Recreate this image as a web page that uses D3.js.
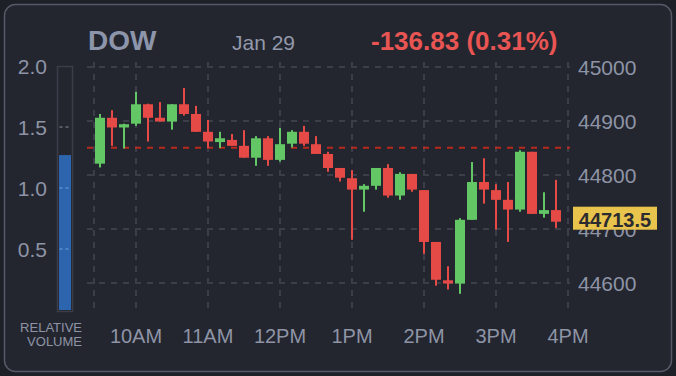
<!DOCTYPE html>
<html>
<head>
<meta charset="utf-8">
<script src="https://cdn.jsdelivr.net/npm/d3@7"></script>
<style>
  html, body { margin: 0; padding: 0; background: #1b1d24; }
  svg { display: block; font-family: "Liberation Sans", Arial, sans-serif; }
</style>
</head>
<body>
<div id="chart"></div>
<script>
// 10-minute candles, Jan 29, starting 9:30
const opens  = [44821,44906,44888,44895,44931,44906,44899,44931,44913,44880,
                44861,44865,44854,44832,44868,44828,44858,44880,44857,44839,
                44813,44794,44773,44780,44813,44762,44802,44772,44676,44605,
                44599,44717,44787,44772,44754,44736,44843,44728,44735];
const highs  = [44913,44920,44895,44954,44932,44935,44931,44961,44928,44902,
                44880,44876,44883,44872,44872,44887,44883,44891,44872,44843,
                44813,44809,44783,44813,44820,44805,44802,44772,44676,44631,
                44720,44824,44831,44783,44787,44846,44843,44768,44791];
const lows   = [44814,44854,44849,44891,44862,44899,44884,44910,44880,44850,
                44850,44854,44832,44817,44817,44825,44851,44854,44839,44806,
                44788,44680,44732,44773,44758,44754,44769,44654,44595,44588,
                44580,44717,44747,44699,44676,44732,44728,44721,44702];
const closes = [44906,44888,44894,44931,44906,44899,44931,44913,44880,44862,
                44868,44854,44832,44868,44828,44857,44880,44858,44839,44813,
                44795,44773,44780,44813,44762,44802,44773,44676,44606,44599,
                44717,44787,44773,44754,44736,44843,44728,44735,44713.5];

const symbol = "DOW";
const dateLabel = "Jan 29";
const changeLabel = "-136.83 (0.31%)";
const prevClose = 44850.33;
const lastPrice = 44713.5;
const relVolume = 1.27;
const priceTicks = [44600, 44700, 44800, 44900, 45000];
const volTicks = [0.5, 1.0, 1.5, 2.0];

const W = 676, H = 376;
const bg = "#23262f", grid = "#3b3e49", txt = "#8e94a6";
const up = "#63c766", down = "#e64a46";

const day = d => new Date(2025, 0, 29, Math.floor(d / 60), d % 60);
const candles = opens.map((o, i) => ({
  t: day(570 + 10 * i), o, h: highs[i], l: lows[i], c: closes[i]
}));

const svg = d3.select("#chart").append("svg")
  .attr("width", W).attr("height", H);

svg.append("rect").attr("width", W).attr("height", H).attr("fill", "#1e2028");
svg.append("rect")
  .attr("x", 4.5).attr("y", 4.5).attr("width", W - 9).attr("height", H - 9)
  .attr("rx", 11).attr("fill", bg).attr("stroke", "#555965").attr("stroke-width", 1.5);

const plotTop = 62, plotBottom = 308, gridLeft = 87, gridRight = 570;

const x = d3.scaleTime().domain([day(565), day(960)]).range([94, 568]);
const y = d3.scaleLinear().domain([44600, 45000]).range([283, 67]);
const v = d3.scaleLinear().domain([0, 2]).range([310, 66]);

// grid
const g = svg.append("g");
g.selectAll("line.h").data(priceTicks).join("line")
  .attr("x1", gridLeft).attr("x2", gridRight)
  .attr("y1", d => y(d)).attr("y2", d => y(d))
  .attr("stroke", grid).attr("stroke-width", 2).attr("stroke-dasharray", "6,6");

const hours = x.ticks(d3.timeHour.every(1));
g.selectAll("line.v").data([day(565)].concat(hours)).join("line")
  .attr("x1", d => x(d)).attr("x2", d => x(d))
  .attr("y1", plotTop).attr("y2", plotBottom)
  .attr("stroke", grid).attr("stroke-width", 2).attr("stroke-dasharray", "6,6");

// previous close
svg.append("line")
  .attr("x1", gridLeft).attr("x2", gridRight)
  .attr("y1", y(prevClose)).attr("y2", y(prevClose))
  .attr("stroke", "#b8291f").attr("stroke-width", 2).attr("stroke-dasharray", "6,6");

// candles
const cg = svg.append("g").selectAll("g").data(candles).join("g");
cg.append("rect")
  .attr("x", d => x(d.t) - 1).attr("width", 2)
  .attr("y", d => y(d.h)).attr("height", d => y(d.l) - y(d.h))
  .attr("fill", d => d.c >= d.o ? up : down);
cg.append("rect")
  .attr("x", d => x(d.t) - 5).attr("width", 10)
  .attr("y", d => y(Math.max(d.o, d.c)))
  .attr("height", d => Math.max(3, Math.abs(y(d.o) - y(d.c))))
  .attr("fill", d => d.c >= d.o ? up : down);

// price axis (right)
svg.append("g").selectAll("text").data(priceTicks).join("text")
  .attr("x", 578).attr("y", d => y(d) + 7.5)
  .attr("fill", txt).attr("font-size", 21)
  .text(d => d);

// last price tag (sits over the 44700 label, as in the original)
svg.append("rect")
  .attr("x", 573).attr("y", y(lastPrice) - 15).attr("width", 84).attr("height", 23)
  .attr("fill", "#e9c44c");
svg.append("text")
  .attr("x", 615).attr("y", y(lastPrice) + 5.5).attr("text-anchor", "middle")
  .attr("fill", "#2b2b30").attr("font-size", 20).attr("font-weight", "bold")
  .text(lastPrice.toFixed(1));

// time axis
svg.append("g").selectAll("text").data(hours).join("text")
  .attr("x", d => x(d)).attr("y", 343).attr("text-anchor", "middle")
  .attr("fill", txt).attr("font-size", 20)
  .text(d => d3.timeFormat("%-I%p")(d));

// relative volume bar
svg.append("rect")
  .attr("x", 59).attr("width", 12)
  .attr("y", v(relVolume)).attr("height", v(0) - v(relVolume))
  .attr("fill", "#2c65ad");
svg.append("rect")
  .attr("x", 57.5).attr("y", 66.5).attr("width", 15).attr("height", 245)
  .attr("fill", "none").attr("stroke", "#3b3e49").attr("stroke-width", 1.5);
svg.append("g").selectAll("line").data([0.5, 1.0, 1.5]).join("line")
  .attr("x1", 59).attr("x2", 71)
  .attr("y1", d => v(d)).attr("y2", d => v(d))
  .attr("stroke", d => d <= relVolume ? "#5a8fd0" : "#6a6e78")
  .attr("stroke-width", 1.5).attr("stroke-dasharray", "3,3").attr("stroke-dashoffset", -0.5);
svg.append("g").selectAll("text").data(volTicks).join("text")
  .attr("x", 47).attr("y", d => v(d) + 7.5).attr("text-anchor", "end")
  .attr("fill", txt).attr("font-size", 21)
  .text(d => d.toFixed(1));
svg.append("text").attr("x", 82).attr("y", 332).attr("text-anchor", "end")
  .attr("fill", txt).attr("font-size", 13).text("RELATIVE");
svg.append("text").attr("x", 82).attr("y", 346).attr("text-anchor", "end")
  .attr("fill", txt).attr("font-size", 13).text("VOLUME");

// header
svg.append("text").attr("x", 88).attr("y", 49.5)
  .attr("fill", "#8d95aa").attr("font-size", 28).attr("font-weight", "bold").text(symbol);
svg.append("text").attr("x", 232).attr("y", 50)
  .attr("fill", "#9399aa").attr("font-size", 21).text(dateLabel);
svg.append("text").attr("x", 371).attr("y", 49.5)
  .attr("fill", "#e85552").attr("font-size", 26).attr("font-weight", "bold").text(changeLabel);
</script>
</body>
</html>
